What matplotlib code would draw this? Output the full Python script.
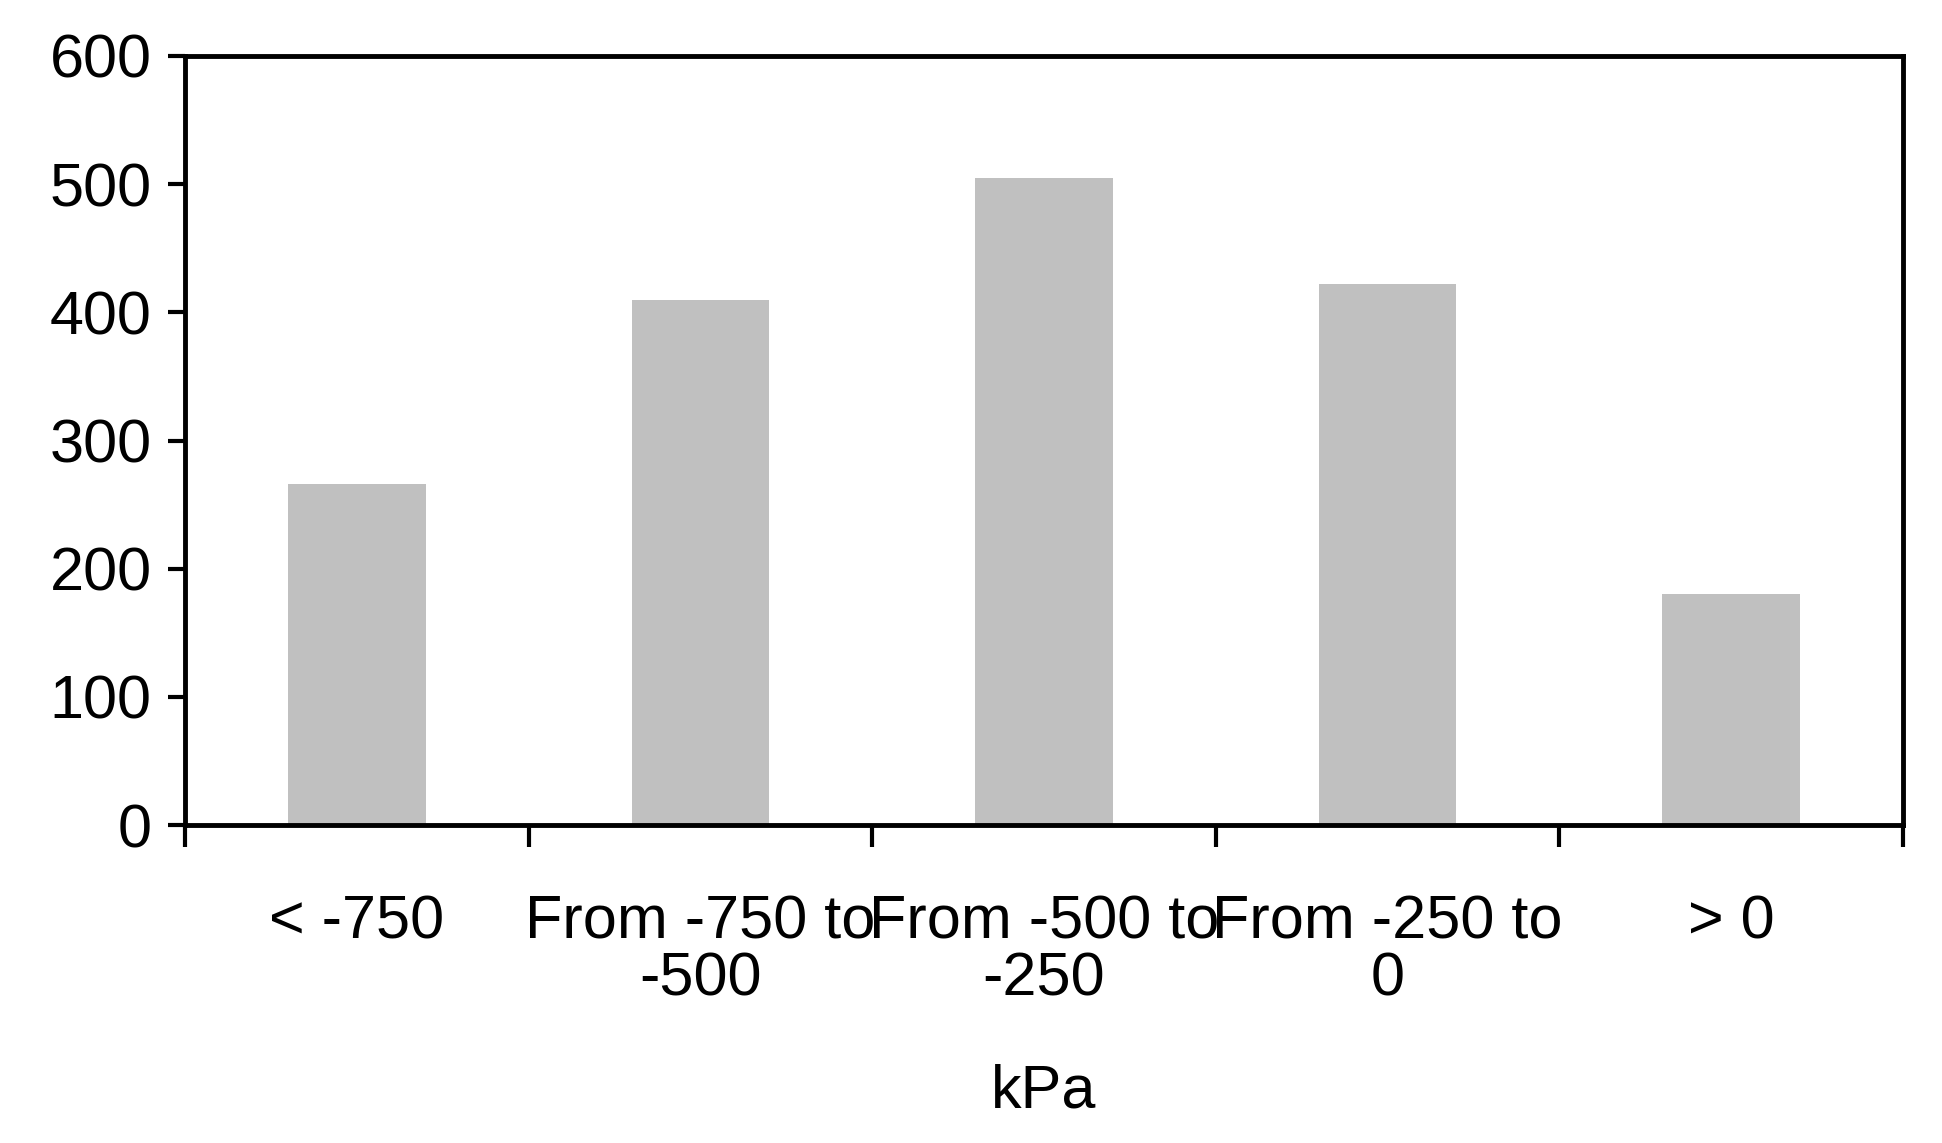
import matplotlib as mpl
import matplotlib.pyplot as plt
import numpy as np

mpl.rcParams.update({
    "font.family": ["Liberation Sans", "DejaVu Sans"],
    "font.size": 44,
})

categories = ["< -750", "From -750 to\n-500", "From -500 to\n-250", "From -250 to\n0", "> 0"]
values = [266, 410, 505, 422, 180]

fig = plt.figure(figsize=(19.42, 11.43), dpi=100)
ax = fig.add_axes([185 / 1942, 1 - 825 / 1143, (1903 - 185) / 1942, (825 - 56) / 1143])

x = np.arange(len(categories))
ax.bar(x, values, width=0.4, color="#c0c0c0")

ax.set_xlim(-0.5, len(categories) - 0.5)
ax.set_ylim(0, 600)
ax.set_yticks(range(0, 601, 100))
ax.set_xticks(x, categories, linespacing=1.0)
ax.set_xticks(np.arange(-0.5, len(categories), 1.0), minor=True)
ax.tick_params(axis="x", which="major", length=0, pad=50)
ax.tick_params(axis="x", which="minor", length=16, width=3, direction="out")
ax.tick_params(axis="y", length=12, width=3, direction="out", pad=12)
for s in ax.spines.values():
    s.set_linewidth(3.5)
ax.set_xlabel("kPa", labelpad=40)

fig.savefig("out.png", dpi=100)
